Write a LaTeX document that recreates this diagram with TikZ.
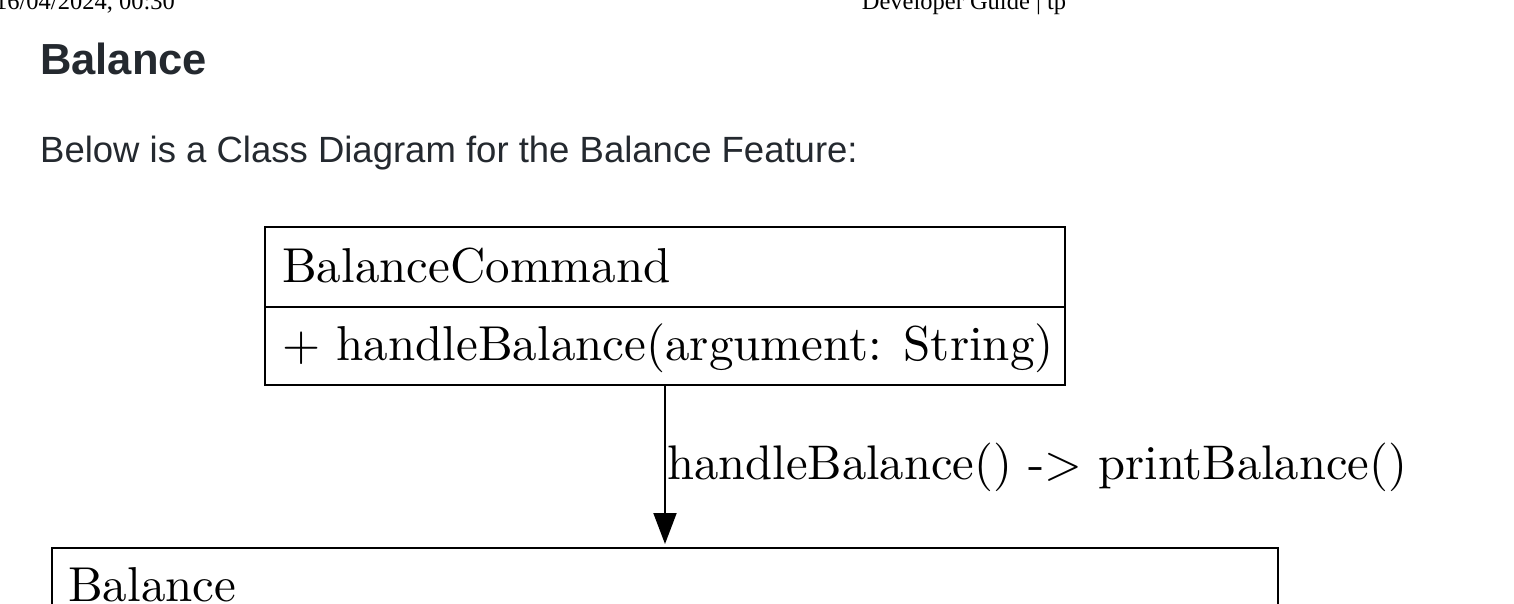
\documentclass[tikz,border=0pt]{standalone}
\usepackage{fontspec}
\setmainfont{Latin Modern Roman}
\newfontfamily\umlfont{lmroman10-regular.otf}
\newfontfamily\uisans{Liberation Sans}
\newfontfamily\hdserif{Liberation Serif}
\usetikzlibrary{arrows.meta}
\definecolor{ghtext}{HTML}{24292F}
\tikzset{
  x=1pt, y=-1pt,
  classbox/.style={draw=black, line width=2pt, rectangle, inner sep=0pt, outer sep=0pt, anchor=north west},
  umltext/.style={anchor=base west, inner sep=0pt, font=\umlfont\fontsize{49}{49}\selectfont},
  headtext/.style={inner sep=0pt, font=\hdserif\fontsize{24.5}{24.5}\selectfont},
  arrowline/.style={draw=black, line width=2pt, shorten >=4pt, -{Triangle[width=23pt,length=31pt]}},
}
\begin{document}
\begin{tikzpicture}
\useasboundingbox (0,0) rectangle (1514,604);
\clip (0,0) rectangle (1514,604);
\fill[white] (0,0) rectangle (1514,604);
% page header
\node[headtext, anchor=base east] (hdate) at (175,10) {16/04/2024, 00:30};
\node[headtext, anchor=base] (htitle) at (964,10) {Developer Guide | tp};
% heading and sentence
\node[anchor=base west, inner sep=0pt, text=ghtext, font=\uisans\bfseries\fontsize{43.5}{43.5}\selectfont] (heading) at (40,75) {Balance};
\node[anchor=base west, inner sep=0pt, text=ghtext, font=\uisans\fontsize{36.5}{36.5}\selectfont] (intro) at (40,163) {Below is a Class Diagram for the Balance Feature:};
% class BalanceCommand
\node[classbox, minimum width=800pt, minimum height=80pt] (bcname) at (265,227) {};
\node[classbox, minimum width=800pt, minimum height=78pt] (bcops) at (bcname.south west) {};
\node[umltext] (bcnametext) at (282,282) {BalanceCommand};
\node[umltext] (bcopstext) at (282,360) {+ handleBalance(argument: String)};
% class Balance
\node[classbox, minimum width=1226pt, minimum height=120pt] (bal) at (52,548) {};
\node[umltext] (baltext) at (68,601) {Balance};
% connector
\draw[arrowline] (bcops.south) -- (bal.north);
\node[umltext, font=\umlfont\fontsize{48.6}{48.6}\selectfont] (arrowlabel) at (667,479) {handleBalance() -> printBalance()};
\end{tikzpicture}
\end{document}
